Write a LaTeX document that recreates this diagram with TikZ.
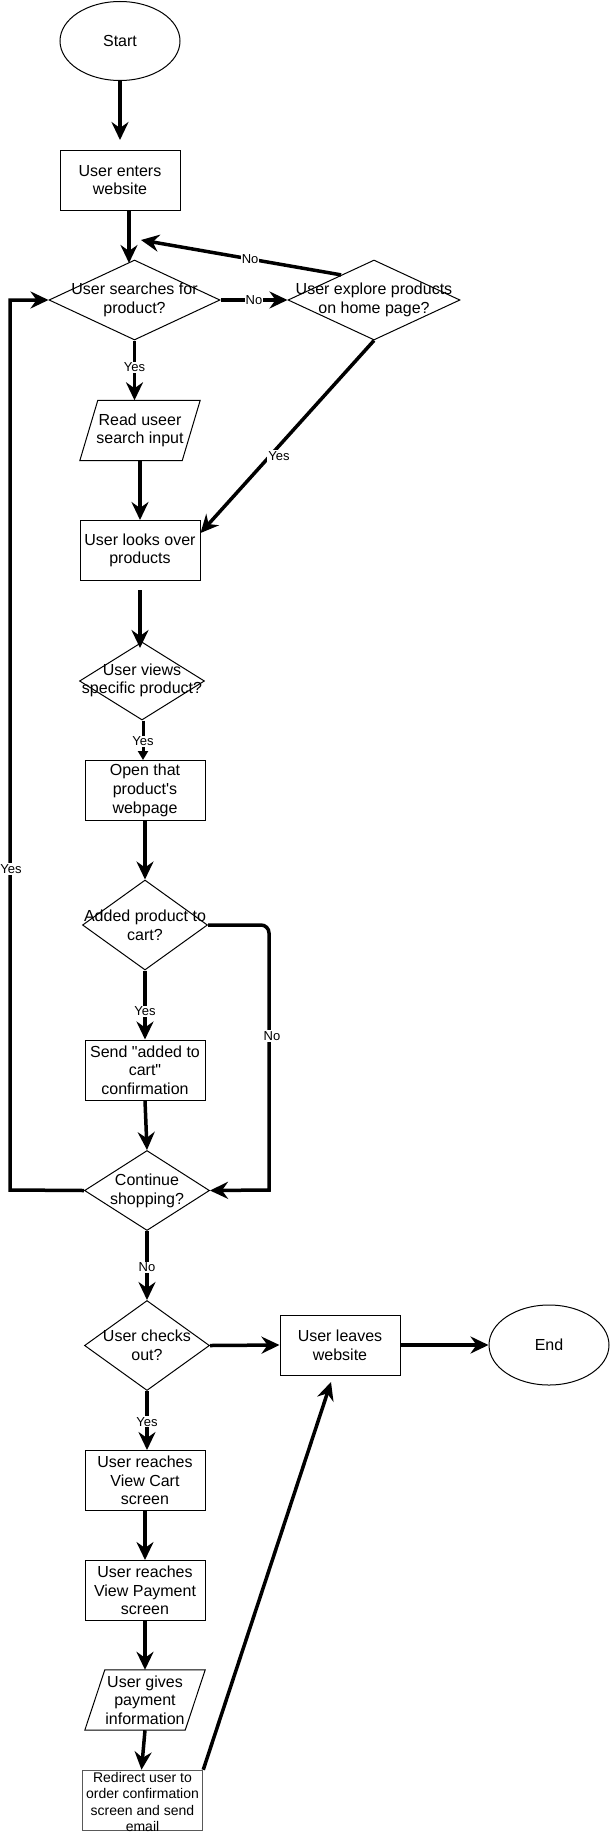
\documentclass[tikz,border=0pt]{standalone}
\usepackage{fontspec}
\setmainfont{Liberation Sans}
\usetikzlibrary{arrows.meta,shapes.geometric,calc}
\begin{document}
\begin{tikzpicture}[x=1pt,y=-1pt,
  txt/.style={font=\fontsize{16}{18.7}\selectfont, align=center, inner sep=0pt},
  box/.style={draw, line width=1pt, minimum width=120pt, minimum height=60pt, inner sep=0pt, txt},
  dia/.style={draw, diamond, line width=1pt, inner sep=0pt},
  term/.style={draw, ellipse, line width=1pt, minimum width=120pt, minimum height=80pt, inner sep=0pt, txt},
  io/.style={minimum width=120pt, minimum height=60pt, inner sep=0pt, txt},
  iobox/.style={line width=1pt},
  flow/.style={line width=3.5pt, -{Stealth[length=18pt,width=17pt,inset=6pt]}},
  smallflow/.style={line width=3pt, -{Triangle[length=9pt,width=10pt]}},
  lbl/.style={font=\fontsize{13}{15}\selectfont, fill=white, inner sep=1pt},
]
\useasboundingbox (0,0) rectangle (610,1833);

% ---- shapes ----
\node[term, minimum height=79pt] (start) at (120,41) {Start};
\node[box] (enters) at (120,180) {User enters\\website};
\node[dia, minimum width=171pt, minimum height=80pt] (d1) at (134.5,300) {};
\node[txt] (d1t) at (134.5,300) {User searches for\\product?};
\node[dia, minimum width=172pt, minimum height=80pt] (d2) at (374,300) {};
\node[txt] (d2t) at (374,300) {User explore products\\on home page?};
\node[io] (read) at (140,430.5) {Read useer\\search input};
\draw[iobox] (read.south west) -- ($(read.north west)+(18,0)$) -- (read.north east) -- ($(read.south east)+(-18,0)$) -- cycle;
\node[box] (looks) at (140,550.5) {User looks over\\products};
\node[dia, minimum width=125pt, minimum height=78pt] (d3) at (142,681) {};
\node[txt] (d3t) at (142,680.5) {User views\\specific product?};
\node[box] (open) at (145,790.5) {Open that\\product\textquotesingle s\\webpage};
\node[dia, minimum width=125pt, minimum height=90pt] (d4) at (145,925) {};
\node[txt] (d4t) at (145,925.5) {Added product to\\cart?};
\node[box] (send) at (145,1070) {Send \textquotedbl added to\\cart\textquotedbl\\confirmation};
\node[dia, minimum width=125pt, minimum height=80pt] (cont) at (147,1190.5) {};
\node[txt] (contt) at (147,1190.5) {Continue\\shopping?};
\node[dia, minimum width=125pt, minimum height=90pt] (checks) at (147,1345.5) {};
\node[txt] (checkst) at (147,1345.5) {User checks\\out?};
\node[box] (leaves) at (340,1345) {User leaves\\website};
\node[term] (end) at (549,1345) {End};
\node[box] (cart) at (145,1480.5) {User reaches\\View Cart\\screen};
\node[box] (pay) at (145,1590.5) {User reaches\\View Payment\\screen};
\node[io] (gives) at (145,1700) {User gives\\payment\\information};
\draw[iobox] (gives.south west) -- ($(gives.north west)+(20,0)$) -- (gives.north east) -- ($(gives.south east)+(-20,0)$) -- cycle;
\node[draw=black!65, line width=1.5pt, minimum width=120pt, minimum height=60pt, inner sep=0pt] (redirect) at (142.5,1800.5) {};
\node[font=\fontsize{14}{16.3}\selectfont, align=center, inner sep=0pt] (redirectt) at (142.5,1802) {Redirect user to\\order confirmation\\screen and send\\email};

% ---- free ends ----
\coordinate (c1) at (120,140);
\coordinate (c2) at (129,263);
\coordinate (c3) at (141,240);
\coordinate (c4) at (140,590);
\coordinate (c5) at (140,648);
\coordinate (c6) at (331,1382);

% ---- connectors ----
\draw[flow] (start.south) -- (c1);
\draw[flow] ([xshift=9pt]enters.south) -- (c2);
\draw[flow] (d1.east) -- node[lbl]{No} (d2.west);
\draw[flow] ($(d2.north)!0.38!(d2.west)$) -- node[lbl, pos=0.455]{No} (c3);
\draw[flow] (d1.south) -- node[lbl, pos=0.45]{Yes} (d1.south |- read.north);
\draw[flow] (read.south) -- (looks.north);
\draw[flow] (d2.south) -- node[lbl, pos=0.6, xshift=9pt]{Yes} ($(looks.north east)+(0,13)$);
\draw[flow] (c4) -- (c5);
\draw[smallflow] ([xshift=1pt]d3.south) -- node[lbl, pos=0.53]{Yes} ([xshift=-2pt]open.north);
\draw[flow] (open.south) -- (d4.north);
\draw[flow] (d4.east) [rounded corners=8pt] -- (269,925) -- (269,1000) [sharp corners] -- (269,1036) node[lbl, xshift=3pt]{No} -- (269,1190) -- (cont.east);
\draw[flow] (d4.south) -- node[lbl, pos=0.59]{Yes} (send.north);
\draw[flow] (send.south) -- (cont.north);
\draw[flow] (cont.west) -- (10,1190) -- (10,869) node[lbl, xshift=1pt]{Yes} -- (10,300) -- (d1.west);
\draw[flow] (cont.south) -- node[lbl, pos=0.53]{No} (checks.north);
\draw[flow] (checks.east) -- (leaves.west);
\draw[flow] (leaves.east) -- (end.west);
\draw[flow] (checks.south) -- node[lbl, pos=0.52]{Yes} (checks.south |- cart.north);
\draw[flow] (cart.south) -- (pay.north);
\draw[flow] (pay.south) -- (gives.north);
\draw[flow] (gives.south) -- ([xshift=-1pt]redirect.north);
\draw[flow] (redirect.north east) -- (c6);
\end{tikzpicture}
\end{document}
